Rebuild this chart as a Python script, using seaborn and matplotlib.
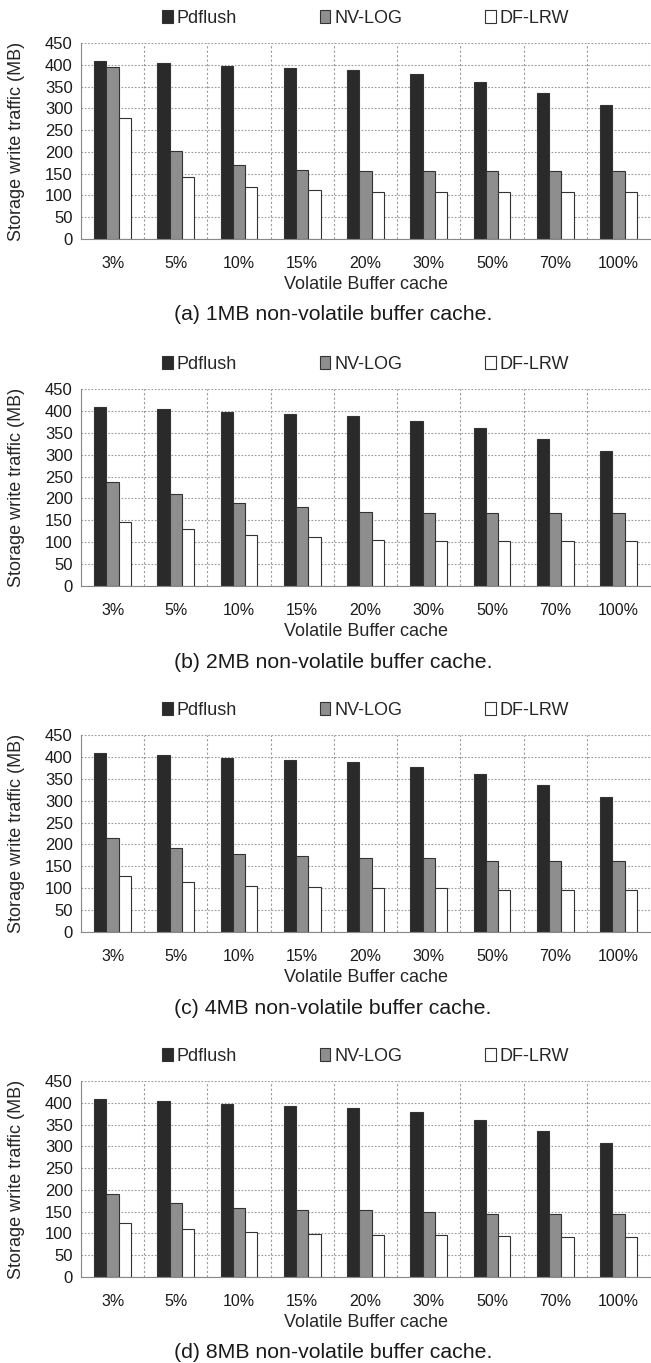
import matplotlib
matplotlib.use("Agg")
import matplotlib.pyplot as plt
from matplotlib.ticker import MultipleLocator, FixedLocator
import seaborn as sns
import pandas as pd
import numpy as np

# values (MB)
cache_sizes = ['3%', '5%', '10%', '15%', '20%', '30%', '50%', '70%', '100%']
schemes = ['Pdflush', 'NV-LOG', 'DF-LRW']

pdflush = [408, 405, 398, 393, 388, 378, 360, 336, 308]

nvlog_1mb = [396, 203, 169, 158, 155, 155, 155, 155, 155]
dflrw_1mb = [278, 143, 120, 112, 109, 109, 109, 109, 109]

nvlog_2mb = [238, 210, 190, 181, 170, 167, 167, 167, 167]
dflrw_2mb = [147, 130, 117, 111, 105, 102, 102, 102, 102]

nvlog_4mb = [214, 191, 179, 173, 170, 168, 162, 162, 162]
dflrw_4mb = [128, 114, 106, 103, 101, 100, 97, 97, 97]

nvlog_8mb = [191, 171, 159, 154, 153, 150, 145, 145, 145]
dflrw_8mb = [123, 111, 103, 99, 97, 97, 94, 92, 92]

captions = ['(a) 1MB non-volatile buffer cache.',
            '(b) 2MB non-volatile buffer cache.',
            '(c) 4MB non-volatile buffer cache.',
            '(d) 8MB non-volatile buffer cache.']

panels = [(nvlog_1mb, dflrw_1mb), (nvlog_2mb, dflrw_2mb),
          (nvlog_4mb, dflrw_4mb), (nvlog_8mb, dflrw_8mb)]

sns.set_style('white')
plt.rcParams['font.family'] = ['Liberation Sans', 'DejaVu Sans']

W, H = 651, 1363
fig = plt.figure(figsize=(W / 100, H / 100), dpi=100)

# pixel rows of axes top / bottom in the reference
ax_tops = [43, 389, 735, 1081]
ax_bottoms = [239, 586, 932, 1277]
left_px, right_px = 81, 650

palette = {'Pdflush': '#2a2a2a', 'NV-LOG': '#8e8e8e', 'DF-LRW': '#ffffff'}

for i, (nv, df_) in enumerate(panels):
    df = pd.DataFrame({
        'cache': cache_sizes * 3,
        'scheme': ['Pdflush'] * 9 + ['NV-LOG'] * 9 + ['DF-LRW'] * 9,
        'traffic': pdflush + nv + df_,
    })
    top, bot = ax_tops[i], ax_bottoms[i]
    ax = fig.add_axes([left_px / W, 1 - bot / H,
                       (right_px - left_px) / W, (bot - top) / H])
    sns.barplot(data=df, x='cache', y='traffic', hue='scheme',
                order=cache_sizes, hue_order=schemes, palette=palette,
                width=0.58, edgecolor='#333333', linewidth=0.8,
                ax=ax, legend=True)

    ax.set_xlim(-0.5, 8.5)
    ax.set_ylim(0, 450)
    ax.yaxis.set_major_locator(MultipleLocator(50))
    ax.xaxis.set_minor_locator(FixedLocator(np.arange(-0.5, 9, 1.0)))

    ax.grid(axis='y', which='major', color='#9a9a9a', linestyle=(0, (1.5, 1.5)), linewidth=0.8)
    ax.grid(axis='x', which='minor', color='#9a9a9a', linestyle=(0, (2, 2)), linewidth=0.8)
    ax.grid(axis='x', which='major', visible=False)
    ax.set_axisbelow(True)

    for s in ['top', 'right']:
        ax.spines[s].set_visible(False)
    ax.spines['left'].set_color('#888888')
    ax.spines['bottom'].set_color('#888888')

    ax.tick_params(axis='x', which='major', length=0, pad=12, labelsize=11.5, colors='#1a1a1a')
    ax.tick_params(axis='x', which='minor', length=6, color='#888888', direction='out')
    ax.tick_params(axis='y', which='major', length=4, color='#888888', direction='out',
                   labelsize=12, pad=2, colors='#1a1a1a')
    ax.tick_params(axis='y', colors='#888888', labelcolor='#1a1a1a')

    ax.set_xlabel('Volatile Buffer cache', fontsize=13)
    ax.xaxis.set_label_coords(0.5, -0.19)
    ax.xaxis.label.set_va('top')
    ax.set_ylabel('Storage write traffic (MB)', fontsize=13)
    ax.yaxis.set_label_coords(-0.098, 0.5)

    handles, labels = ax.get_legend_handles_labels()
    ax.legend(handles, labels, loc='center', bbox_to_anchor=(0.5, 1.125),
              ncol=3, frameon=False, fontsize=13, handlelength=0.6,
              handleheight=0.7, handletextpad=0.2, columnspacing=4.6,
              borderaxespad=0)

    fig.text(333 / W, 1 - (bot + 76) / H, captions[i], ha='center', va='center',
             fontsize=15.3, color='#1a1a1a')

fig.savefig('out.png', dpi=100)
